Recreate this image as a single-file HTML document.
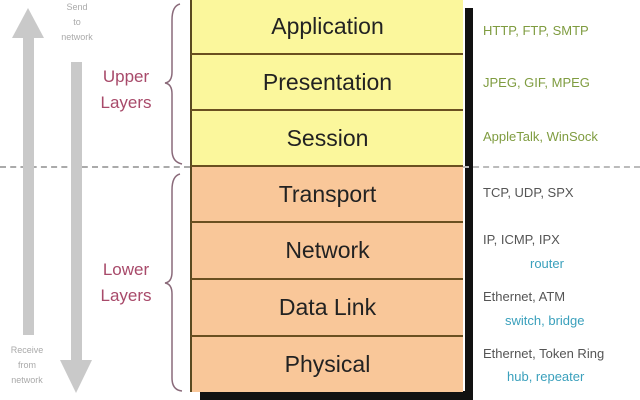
<!DOCTYPE html>
<html><head><meta charset="utf-8"><style>
body{margin:0;width:640px;height:400px;background:#fff;position:relative;overflow:hidden;font-family:"Liberation Sans",sans-serif}
.a{position:absolute}
.row{position:absolute;left:190px;width:273px;border-left:2px solid #5a4a20;border-bottom:2px solid #6a5020;box-sizing:border-box;display:flex;align-items:center;justify-content:center;font-size:23px;color:#222}
.y{background:#fbf79c}.o{background:#f9c799}
.r{position:absolute;left:483px;font-size:13px;color:#555}
.g{color:#7f9c40}.t{color:#3aa0bc}
.lab{position:absolute;color:#a84a6a;font-size:17px;line-height:26px;text-align:center;width:70px}
.sm{position:absolute;color:#aaa;font-size:9px;text-align:center;line-height:15px;width:50px}
</style></head><body>
<div class="a" style="left:465px;top:8px;width:8px;height:392px;background:#111"></div>
<div class="a" style="left:200px;top:391px;width:273px;height:9px;background:#111"></div>
<div class="row y" style="top:0;height:55px">Application</div>
<div class="row y" style="top:55px;height:56px">Presentation</div>
<div class="row y" style="top:111px;height:56px">Session</div>
<div class="row o" style="top:167px;height:56px">Transport</div>
<div class="row o" style="top:223px;height:57px">Network</div>
<div class="row o" style="top:280px;height:57px">Data Link</div>
<div class="row o" style="top:337px;height:55px;border-bottom:none">Physical</div>
<div class="a" style="left:0;top:166px;width:190px;border-top:2px dashed #aaa"></div>
<div class="a" style="left:463px;top:166px;width:177px;border-top:2px dashed #bbb"></div>
<svg class="a" style="left:0;top:0" width="190" height="400">
<rect x="23" y="30" width="11" height="305" fill="#c9c9c9"/>
<polygon points="28,8 12,38 44,38" fill="#c9c9c9"/>
<rect x="71" y="62" width="11" height="300" fill="#c9c9c9"/>
<polygon points="76,393 60,360 92,360" fill="#c9c9c9"/>
<path d="M180,4 Q172,6 172,20 L172,72 Q172,82 165,83 Q172,84 172,94 L172,150 Q172,162 182,164" fill="none" stroke="#8a6a7a" stroke-width="1.5"/>
<path d="M180,174 Q172,176 172,190 L172,272 Q172,282 165,283 Q172,284 172,294 L172,378 Q172,390 182,391" fill="none" stroke="#8a6a7a" stroke-width="1.5"/>
</svg>
<div class="sm" style="left:52px;top:0">Send<br>to<br>network</div>
<div class="sm" style="left:2px;top:343px">Receive<br>from<br>network</div>
<div class="lab" style="left:91px;top:64px">Upper<br>Layers</div>
<div class="lab" style="left:91px;top:257px">Lower<br>Layers</div>
<div class="r g" style="top:23px">HTTP, FTP, SMTP</div>
<div class="r g" style="top:75px">JPEG, GIF, MPEG</div>
<div class="r g" style="top:129px">AppleTalk, WinSock</div>
<div class="r" style="top:185px">TCP, UDP, SPX</div>
<div class="r" style="top:232px">IP, ICMP, IPX</div>
<div class="r t" style="top:256px;left:530px">router</div>
<div class="r" style="top:289px">Ethernet, ATM</div>
<div class="r t" style="top:313px;left:505px">switch, bridge</div>
<div class="r" style="top:346px">Ethernet, Token Ring</div>
<div class="r t" style="top:369px;left:507px">hub, repeater</div>
</body></html>
